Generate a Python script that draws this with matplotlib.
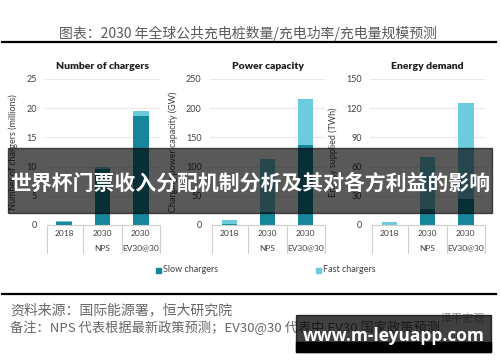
import numpy as np
import matplotlib.pyplot as plt
from matplotlib.patches import Rectangle

plt.rcParams['font.family'] = ['Lato', 'Noto Sans CJK SC', 'DejaVu Sans']

# datos
years = ["2018", "2030", "2030"]
scen = ["", "NPS", "EV30@30"]
slow_num = [0.5, 9.6, 18.7]
fast_num = [0.1, 0.4, 0.9]
slow_pow = [1, 22, 137]
fast_pow = [8, 91, 78]
slow_en = [0.5, 16, 27]
fast_en = [2.5, 54, 98]

titles = ["Number of chargers", "Power capacity", "Energy demand"]
ylabels = ["Number of chargers (millions)", "Charging power capacity (GW)", "Energy supplied (TWh)"]
ymax = [25, 250, 150]
ystep = [5, 50, 30]

cSlow = "#16879a"
cFast = "#6dccdc"
W, H = 500, 362

fig = plt.figure(figsize=(5, 3.62), dpi=100)

def fx(px):
    return px / W
def fy(py):
    return 1 - py / H

lefts = [45, 210, 370]
ylab_x = [-0.235, -0.28, -0.28]
data = [(slow_num, fast_num), (slow_pow, fast_pow), (slow_en, fast_en)]

for i in range(3):
    ax = fig.add_axes([fx(lefts[i]), fy(225), 115 / W, (225 - 79) / H])
    slow, fast = data[i]
    x = np.arange(3)
    ax.bar(x, slow, 0.4, color=cSlow, zorder=3)
    ax.bar(x, fast, 0.4, bottom=slow, color=cFast, zorder=3)
    ax.set_xlim(-0.5, 2.5)
    ax.set_ylim(0, ymax[i])
    ax.set_yticks(np.arange(0, ymax[i] + 1, ystep[i]))
    ax.tick_params(axis='y', length=0, pad=6, labelsize=6.5, colors="#404040")
    ax.set_xticks([])
    for s in ax.spines.values():
        s.set_visible(False)
    ax.grid(axis='y', color="#e8e8e8", linewidth=0.8, zorder=0)
    # eje de categorias tipo excel
    ax.plot([-0.45, 2.5], [0, 0], color="#d0d0d0", lw=0.8, clip_on=False, zorder=4)
    for xb in [-0.45, 0.5, 1.5, 2.5]:
        ax.plot([xb, xb], [0, -0.19], transform=ax.get_xaxis_transform(),
                color="#d0d0d0", lw=0.8, clip_on=False)
    for j in range(3):
        ax.text(x[j], -0.055, years[j], transform=ax.get_xaxis_transform(),
                ha='center', va='center', fontsize=6, color="#404040")
        ax.text(x[j], -0.158, scen[j], transform=ax.get_xaxis_transform(),
                ha='center', va='center', fontsize=6, color="#404040")
    ax.set_title(titles[i], fontsize=7.5, fontweight='heavy', color="#202020", pad=7)
    ax.set_ylabel(ylabels[i], fontsize=6.5, color="#404040")
    ax.yaxis.set_label_coords(ylab_x[i], 0.5)

# leyenda
fig.patches.append(Rectangle((fx(156), fy(273)), 5 / W, 5 / H, transform=fig.transFigure,
                             color=cSlow))
fig.text(fx(163), fy(270), "Slow chargers", fontsize=6.5, color="#404040", va='center')
fig.patches.append(Rectangle((fx(316), fy(273)), 5 / W, 5 / H, transform=fig.transFigure,
                             color=cFast))
fig.text(fx(323), fy(270), "Fast chargers", fontsize=6.5, color="#404040", va='center')

# cabecera y pie
fig.text(fx(248), fy(33), "图表：2030 年全球公共充电桩数量/充电功率/充电量规模预测",
         ha='center', va='center', fontsize=10, color="#5a5a5a",
         family=['Noto Sans CJK SC', 'DejaVu Sans'])
fig.add_artist(plt.Line2D([fx(2), fx(496)], [fy(42), fy(42)], color="black", lw=1.6))
fig.add_artist(plt.Line2D([fx(2), fx(496)], [fy(294), fy(294)], color="black", lw=1.6))
fig.text(fx(10), fy(310), "资料来源：国际能源署，恒大研究院", va='center', fontsize=10,
         color="#666666", family=['Noto Sans CJK SC', 'DejaVu Sans'])
fig.text(fx(10), fy(328), "备注：NPS 代表根据最新政策预测；EV30@30 代表中 EV30 国家政策预测",
         va='center', fontsize=9.5, color="#666666", family=['Noto Sans CJK SC', 'DejaVu Sans'])
fig.text(fx(485), fy(318), "泽平宏观", ha='right', va='center', fontsize=8,
         color="#999999", family=['Noto Sans CJK SC', 'DejaVu Sans'])

# banda superpuesta
fig.patches.append(Rectangle((fx(8), fy(213)), 484 / W, 65 / H, transform=fig.transFigure,
                             color="black", alpha=0.65, zorder=10))
fig.text(fx(250), fy(183), "世界杯门票收入分配机制分析及其对各方利益的影响",
         ha='center', va='center', fontsize=15, fontweight='bold', color="white",
         family=['Noto Sans CJK SC', 'DejaVu Sans'], zorder=11)

# marca de agua
fig.patches.append(Rectangle((fx(296), fy(352)), 195 / W, 37 / H, transform=fig.transFigure,
                             color="black", alpha=0.75, zorder=10))
fig.patches.append(Rectangle((fx(296), fy(352)), 195 / W, 10 / H, transform=fig.transFigure,
                             color="black", zorder=10))
fig.text(fx(394), fy(336), "www.m-leyuapp.com", ha='center', va='center', fontsize=12.5,
         fontweight='bold', color="white", family=['Open Sans', 'DejaVu Sans'], zorder=11)

fig.savefig("out.png", dpi=100)
